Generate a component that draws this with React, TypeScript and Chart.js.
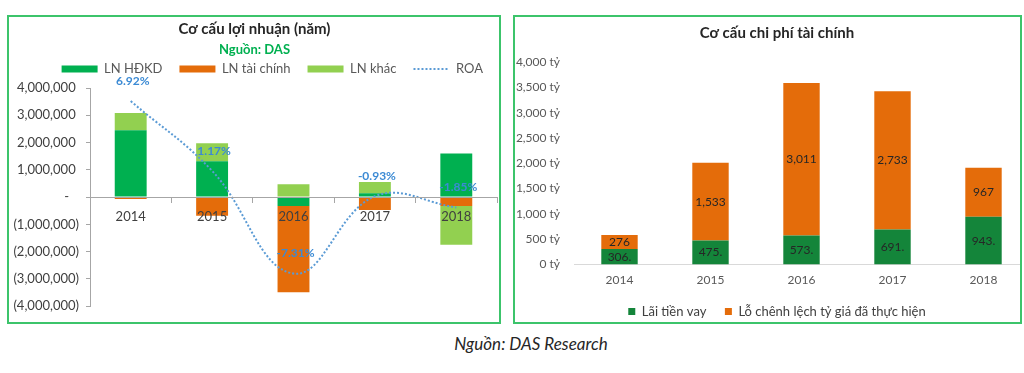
import React, { useEffect, useRef } from 'react';
import { Chart, registerables } from 'chart.js';

Chart.register(...registerables);

const FONT = 'Lato, "Open Sans", sans-serif';

// ---- Left chart: Cơ cấu lợi nhuận (năm) ----
const years = ['2014', '2015', '2016', '2017', '2018'];
const lnHdkd = [2450000, 1310000, -330000, 140000, 1600000];
const lnTaiChinh = [-70000, -680000, -3160000, -470000, -330000];
const lnKhac = [630000, 660000, 470000, 410000, -1420000];
const roa = [6.92, 1.17, -7.31, -0.93, -1.85];
const roaLabels = ['6.92%', '1.17%', '-7.31%', '-0.93%', '-1.85%'];

// ---- Right chart: Cơ cấu chi phí tài chính ----
const laiTienVay = [306, 475, 573, 691, 943];
const loChenhLech = [276, 1533, 3011, 2733, 967];

const GREEN_DARK = '#00b050';
const GREEN_LIGHT = '#92d050';
const ORANGE = '#e46c0a';
const GREEN_RIGHT = '#14853a';
const ROA_BLUE = '#5b9bd5';
const PANEL_BORDER = '#3cc46b';

const fmtLeft = (v: number) => {
  if (v === 0) return '-   ';
  const s = Math.abs(v).toLocaleString('en-US');
  return v < 0 ? `(${s})` : `${s} `;
};

const roaLabelPlugin = {
  id: 'roaLabels',
  afterDraw(chart: any) {
    const meta = chart.getDatasetMeta(3);
    const ctx = chart.ctx;
    ctx.save();
    ctx.font = `bold 12px ${FONT}`;
    ctx.fillStyle = '#3b8ad4';
    ctx.textAlign = 'center';
    ctx.textBaseline = 'middle';
    meta.data.forEach((pt: any, i: number) => {
      ctx.fillText(roaLabels[i], pt.x + 2, pt.y - 20);
    });
    ctx.restore();
  },
};

const barLabelPlugin = {
  id: 'barLabels',
  afterDatasetsDraw(chart: any) {
    const ctx = chart.ctx;
    ctx.save();
    ctx.font = `12px ${FONT}`;
    ctx.fillStyle = '#262626';
    ctx.textAlign = 'center';
    ctx.textBaseline = 'middle';
    chart.data.datasets.forEach((ds: any, di: number) => {
      const meta = chart.getDatasetMeta(di);
      meta.data.forEach((bar: any, i: number) => {
        const { x, y, base } = bar.getProps(['x', 'y', 'base'], true);
        const v = ds.data[i];
        const text = di === 0 ? `${v}.` : Number(v).toLocaleString('en-US');
        ctx.fillText(text, x, (y + base) / 2);
      });
    });
    ctx.restore();
  },
};

export default function App() {
  const leftRef = useRef<HTMLCanvasElement>(null);
  const rightRef = useRef<HTMLCanvasElement>(null);

  useEffect(() => {
    Chart.defaults.font.family = FONT;

    const left = new Chart(leftRef.current as HTMLCanvasElement, {
      type: 'bar',
      data: {
        labels: years,
        datasets: [
          { type: 'bar', label: 'LN HĐKD', data: lnHdkd, backgroundColor: GREEN_DARK, order: 1 },
          { type: 'bar', label: 'LN tài chính', data: lnTaiChinh, backgroundColor: ORANGE, order: 1 },
          { type: 'bar', label: 'LN khác', data: lnKhac, backgroundColor: GREEN_LIGHT, order: 1 },
          {
            type: 'line',
            label: 'ROA',
            data: roa,
            yAxisID: 'y1',
            borderColor: ROA_BLUE,
            borderWidth: 2,
            borderDash: [2, 2],
            pointRadius: 0,
            tension: 0.4,
            fill: false,
            order: 0,
          },
        ],
      } as any,
      options: {
        responsive: false,
        animation: false,
        layout: { padding: { left: 0, right: 0, top: 0, bottom: 11 } },
        datasets: { bar: { categoryPercentage: 0.8, barPercentage: 0.49 } } as any,
        scales: {
          x: {
            stacked: true,
            position: { y: 0 } as any,
            grid: { display: true, drawOnChartArea: false, drawTicks: true, tickLength: 5, color: '#a6a6a6', z: 1 },
            border: { display: true, color: '#a6a6a6', width: 1, z: 1 },
            ticks: { font: { size: 13, family: FONT }, color: '#404040', padding: 7, z: 1 },
          },
          xTop: {
            type: 'category',
            position: 'top',
            display: true,
            ticks: { display: false },
            grid: { display: false, drawTicks: false },
            border: { display: false },
            afterFit: (s: any) => { s.height = 2.5; },
          },
          y: {
            stacked: true,
            min: -4000000,
            max: 4000000,
            ticks: {
              stepSize: 1000000,
              callback: (v: any) => fmtLeft(Number(v)),
              font: { size: 13, family: FONT },
              color: '#404040',
              padding: 7,
            },
            grid: { display: true, drawOnChartArea: false, drawTicks: true, tickLength: 4, color: '#a6a6a6' },
            border: { display: true, color: '#a6a6a6' },
            afterFit: (s: any) => { s.width = 81; },
          },
          y1: {
            position: 'right',
            min: -10,
            max: 8,
            display: true,
            ticks: { display: false },
            grid: { display: false, drawTicks: false },
            border: { display: false },
            afterFit: (s: any) => { s.width = 3; },
          },
        } as any,
        plugins: {
          title: {
            display: true,
            text: 'Cơ cấu lợi nhuận (năm)',
            font: { size: 15, weight: 'bold', family: FONT },
            color: '#262626',
            padding: { top: 3, bottom: 4.2 },
          },
          subtitle: {
            display: true,
            text: 'Nguồn: DAS',
            font: { size: 13, weight: 'bold', family: FONT },
            color: GREEN_DARK,
            padding: { top: 0, bottom: -12.3 },
          },
          legend: {
            position: 'top',
            align: 'end',
            labels: {
              usePointStyle: true,
              pointStyleWidth: 36,
              boxHeight: 7,
              padding: 17,
              color: '#595959',
              font: { size: 13, family: FONT },
              generateLabels: (chart: any) =>
                chart.data.datasets.map((ds: any, i: number) => ({
                  text: ds.label,
                  fillStyle: i < 3 ? ds.backgroundColor : 'rgba(0,0,0,0)',
                  strokeStyle: i < 3 ? ds.backgroundColor : ROA_BLUE,
                  lineWidth: i < 3 ? 0 : 2,
                  lineDash: i < 3 ? [] : [2, 2],
                  pointStyle: i < 3 ? 'rect' : 'line',
                  hidden: false,
                  datasetIndex: i,
                  fontColor: '#595959',
                })),
            },
          },
          tooltip: { enabled: false },
        },
      } as any,
      plugins: [roaLabelPlugin],
    });

    const right = new Chart(rightRef.current as HTMLCanvasElement, {
      type: 'bar',
      data: {
        labels: years,
        datasets: [
          { label: 'Lãi tiền vay', data: laiTienVay, backgroundColor: GREEN_RIGHT },
          { label: 'Lỗ chênh lệch tỷ giá đã thực hiện', data: loChenhLech, backgroundColor: ORANGE },
        ],
      },
      options: {
        responsive: false,
        animation: false,
        layout: { padding: 0 },
        datasets: { bar: { categoryPercentage: 0.8, barPercentage: 0.5 } } as any,
        scales: {
          x: {
            stacked: true,
            grid: { display: false, drawTicks: false },
            border: { display: true, color: '#d9d9d9', width: 1 },
            ticks: { font: { size: 12, family: FONT, lineHeight: 1 }, color: '#595959', padding: 10 },
            afterFit: (s: any) => { s.height = 22; },
          },
          y: {
            stacked: true,
            min: 0,
            max: 4000,
            ticks: {
              stepSize: 500,
              callback: (v: any) => `${Number(v).toLocaleString('en-US')} tỷ`,
              font: { size: 12, family: FONT },
              color: '#595959',
              padding: 14,
            },
            grid: { display: false, drawTicks: false },
            border: { display: false },
            afterFit: (s: any) => { s.width = 59; },
          },
          yR: {
            type: 'linear',
            position: 'right',
            display: true,
            ticks: { display: false },
            grid: { display: false, drawTicks: false },
            border: { display: false },
            afterFit: (s: any) => { s.width = 10; },
          },
        } as any,
        plugins: {
          title: {
            display: true,
            text: 'Cơ cấu chi phí tài chính',
            font: { size: 15, weight: 'bold', family: FONT },
            color: '#262626',
            padding: { top: 7.5, bottom: 19.5 },
          },
          legend: {
            position: 'bottom',
            labels: {
              boxWidth: 7,
              boxHeight: 7,
              padding: 18.5,
              color: '#404040',
              font: { size: 13, family: FONT },
            },
          },
          tooltip: { enabled: false },
        },
      } as any,
      plugins: [barLabelPlugin],
    });

    return () => {
      left.destroy();
      right.destroy();
    };
  }, []);

  const panel: React.CSSProperties = {
    position: 'absolute',
    boxSizing: 'border-box',
    border: `2px solid ${PANEL_BORDER}`,
    overflow: 'hidden',
    background: '#ffffff',
  };

  return (
    <div
      style={{
        position: 'absolute',
        left: 0,
        top: 0,
        width: 1024,
        height: 373,
        background: '#ffffff',
        overflow: 'hidden',
        fontFamily: FONT,
      }}
    >
      <div style={{ ...panel, left: 7, top: 15, width: 494, height: 309 }}>
        <canvas
          ref={leftRef}
          width={491}
          height={304}
          style={{ position: 'absolute', left: 0, top: 0, width: 491, height: 304 }}
        />
      </div>
      <div style={{ ...panel, left: 513, top: 15, width: 509, height: 309 }}>
        <canvas
          ref={rightRef}
          width={524}
          height={311}
          style={{ position: 'absolute', left: 0, top: 0, width: 524, height: 311 }}
        />
      </div>
      <div
        style={{
          position: 'absolute',
          left: 331,
          top: 333,
          width: 400,
          textAlign: 'center',
          fontStyle: 'italic',
          fontSize: 17,
          lineHeight: '22px',
          color: '#262626',
        }}
      >
        Nguồn: DAS Research
      </div>
    </div>
  );
}
